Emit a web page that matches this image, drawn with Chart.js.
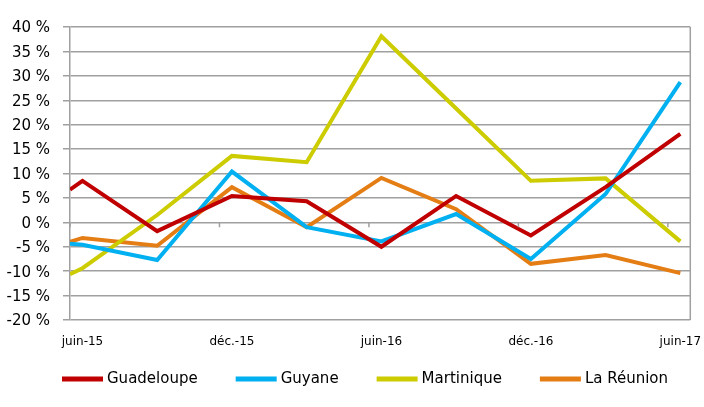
<!DOCTYPE html>
<html>
<head>
<meta charset="utf-8">
<script src="https://cdn.jsdelivr.net/npm/chart.js@4"></script>
<style>
  html, body { margin: 0; padding: 0; background: #fff; }
  #wrap { width: 704px; height: 407px; }
</style>
</head>
<body>
<div id="wrap"><canvas id="chart" width="704" height="407"></canvas></div>
<script>
// months counted from juin-15 (first point sits half a month earlier)
const months = [-0.5, 0, 3, 6, 9, 12, 15, 18, 21, 24];
const tickMonths = [-0.5, 5.5, 11.5, 17.5, 23.5];
const tickLabels = ['juin-15', 'déc.-15', 'juin-16', 'déc.-16', 'juin-17'];

const guadeloupe = [6.7, 8.5, -1.8, 5.4, 4.3, -5.0, 5.4, -2.7, 7.2, 18.1];
const guyane     = [-4.4, -4.6, -7.7, 10.4, -1.0, -3.9, 1.7, -7.5, 5.8, 28.7];
const martinique = [-10.6, -9.4, 1.5, 13.6, 12.3, 38.1, 23.3, 8.5, 9.0, -3.9];
const reunion    = [-4.0, -3.2, -4.8, 7.2, -1.0, 9.1, 2.7, -8.5, -6.7, -10.4];

const seriesNames = ['Guadeloupe', 'Guyane', 'Martinique', 'La Réunion'];
const seriesValues = [guadeloupe, guyane, martinique, reunion];
const seriesColors = ['#C00000', '#00B0F0', '#CCCC00', '#E47D14'];

const gridColor = '#A0A0A0';
const font = "'DejaVu Sans', sans-serif";

// right frame line, tick marks on the 0 % line, and the legend row
const frame = {
  id: 'frame',
  afterDraw(chart) {
    const { ctx, chartArea, scales } = chart;
    const y0 = scales.y.getPixelForValue(0);
    ctx.save();
    ctx.strokeStyle = gridColor;
    ctx.lineWidth = 1.5;
    ctx.beginPath();
    ctx.moveTo(chartArea.right, chartArea.top);
    ctx.lineTo(chartArea.right, chartArea.bottom);
    scales.x.ticks.forEach((t, i) => {
      const x = scales.x.getPixelForTick(i);
      ctx.moveTo(x, y0);
      ctx.lineTo(x, y0 + 5);
    });
    ctx.stroke();

    let x = 62;
    const y = 379;
    ctx.font = '15px ' + font;
    ctx.textBaseline = 'middle';
    chart.data.datasets.forEach(ds => {
      ctx.fillStyle = ds.borderColor;
      ctx.fillRect(x, y - 2.5, 41, 5);
      x += 45;
      ctx.fillStyle = '#000';
      ctx.fillText(ds.label, x, y);
      x += ctx.measureText(ds.label).width + 38;
    });
    ctx.restore();
  }
};

new Chart(document.getElementById('chart'), {
  type: 'line',
  data: {
    datasets: seriesNames.map((name, i) => ({
      label: name,
      data: seriesValues[i].map((v, j) => ({ x: months[j], y: v })),
      borderColor: seriesColors[i],
      backgroundColor: seriesColors[i],
      borderWidth: 4,
      pointRadius: 0,
      tension: 0
    }))
  },
  options: {
    responsive: false,
    animation: false,
    layout: { padding: { top: 27, right: 11, left: 0, bottom: 57 } },
    plugins: {
      tooltip: { enabled: false },
      legend: { display: false }
    },
    scales: {
      x: {
        type: 'linear',
        min: -0.5,
        max: 24.4,
        afterBuildTicks: s => { s.ticks = tickMonths.map(v => ({ value: v })); },
        afterFit: s => { s.height = 30; },
        grid: { display: false, drawTicks: false },
        border: { display: false },
        ticks: {
          callback: (v, i) => tickLabels[i],
          labelOffset: 12.5,
          padding: 15,
          maxRotation: 0,
          autoSkip: false,
          color: '#000',
          font: { family: font, size: 12 }
        }
      },
      y: {
        min: -20,
        max: 40,
        afterFit: s => { s.width = 70; },
        grid: { color: gridColor, lineWidth: 1.5, tickLength: 7 },
        border: { color: gridColor, width: 1.5 },
        ticks: {
          stepSize: 5,
          padding: 13,
          labelOffset: 1.5,
          color: '#000',
          font: { family: font, size: 15 },
          callback: v => v + ' %'
        }
      }
    }
  },
  plugins: [frame]
});
</script>
</body>
</html>
